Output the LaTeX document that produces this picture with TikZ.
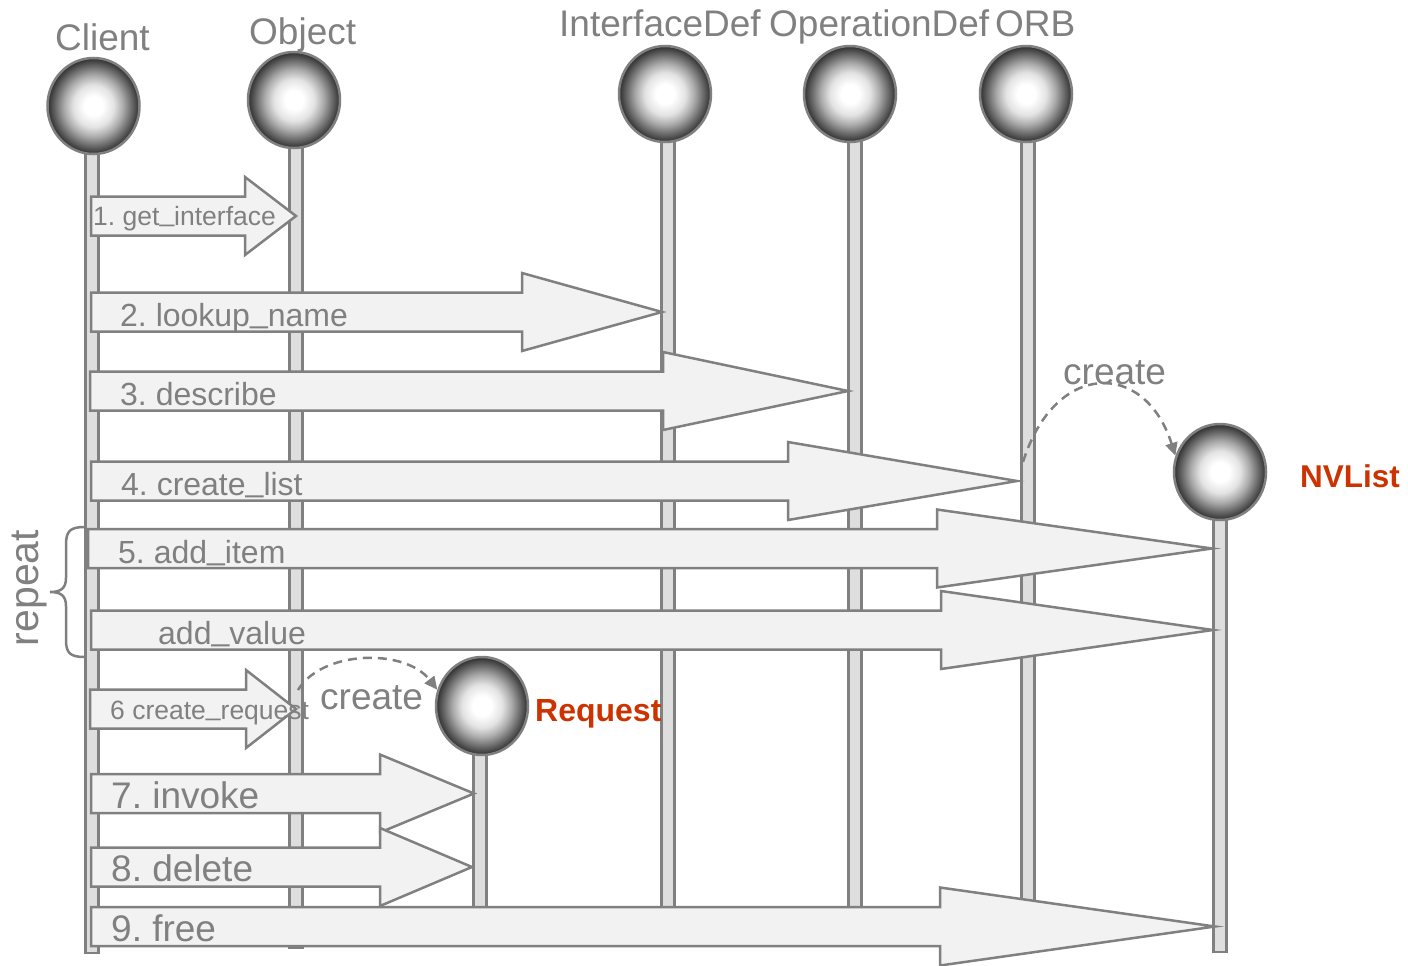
\documentclass[tikz,border=0pt]{standalone}
\usepackage{fontspec}
\setmainfont{Liberation Sans}
\usetikzlibrary{shapes.geometric,arrows.meta}

\definecolor{linegray}{HTML}{808080}
\definecolor{txtgray}{HTML}{808080}
\definecolor{barfill}{HTML}{DEDEDE}
\definecolor{arrowfill}{HTML}{F2F2F2}
\definecolor{objred}{HTML}{CC3300}

% white-centred sphere look for the object heads
\pgfdeclareradialshading{orbshade}{\pgfpoint{0bp}{0bp}}{%
  color(0bp)=(white); color(5bp)=(white); color(11bp)=(black!11);
  color(16bp)=(black!33); color(21bp)=(black!60); color(25bp)=(black!82);
  color(50bp)=(black!82)}

% underscore set slightly higher than the font's own
\newcommand{\us}{\raisebox{0.12em}{\char95}}

\tikzset{
  lifeobj/.style={ellipse, minimum width=92pt, minimum height=96pt, inner sep=0pt,
    draw=linegray, line width=2.5pt, shading=orbshade},
  lifebar/.style={draw=linegray, fill=barfill, line width=2.5pt},
  blockarrow/.style={draw=linegray, fill=arrowfill, line width=2.5pt, line join=miter},
  hdr/.style={text=txtgray, inner sep=0pt, anchor=base west, font=\fontsize{37}{44}\selectfont},
  msgS/.style={text=txtgray, inner sep=0pt, anchor=base west, font=\fontsize{26.5}{30}\selectfont},
  msgM/.style={text=txtgray, inner sep=0pt, anchor=base west, font=\fontsize{32}{38}\selectfont},
  msgL/.style={text=txtgray, inner sep=0pt, anchor=base west, font=\fontsize{37}{44}\selectfont},
  objname/.style={text=objred, inner sep=0pt, anchor=base west, font=\fontsize{32}{38}\selectfont\bfseries},
  createarc/.style={draw=linegray, line width=2.5pt, dash pattern=on 9pt off 6pt,
    -{Triangle[length=13pt,width=12pt,fill=linegray]}},
}

% block arrow: left x, head x, tip x, centre y
\newcommand{\blockarrow}[4]{%
  \draw[blockarrow] (#1,{#4-19.5}) -- (#2,{#4-19.5}) -- (#2,{#4-39}) -- (#3,#4)
    -- (#2,{#4+39}) -- (#2,{#4+19.5}) -- (#1,{#4+19.5}) -- cycle;}
% lifeline bar: centre x, top y, bottom y
\newcommand{\lifebar}[3]{%
  \draw[lifebar] ({#1-6.5},#2) rectangle ({#1+6.5},#3);}

\begin{document}
\frenchspacing
\begin{tikzpicture}[x=1pt,y=-1pt]
\useasboundingbox (0,0) rectangle (1408,966);

% lifelines
\lifebar{92}{106}{953}
\lifebar{296}{100}{948}
\lifebar{668}{94}{915}
\lifebar{855}{94}{915}
\lifebar{1028}{94}{915}
\lifebar{1220}{472}{952}
\lifebar{480}{706}{915}

% object heads
\node[lifeobj] (client) at (93.5,106) {};
\node[lifeobj] (object) at (294,100) {};
\node[lifeobj] (ifacedef) at (665,94) {};
\node[lifeobj] (opdef) at (850,94) {};
\node[lifeobj] (orb) at (1026,94) {};
\node[lifeobj] (nvlist) at (1220,472) {};
\node[lifeobj, minimum height=98pt] (request) at (482,706) {};

% object names
\node[hdr] (tclient) at (55,51) {Client};
\node[hdr] (tobject) at (249,45) {Object};
\node[hdr] (tiface) at (559,37) {InterfaceDef};
\node[hdr] (topdef) at (769,37) {OperationDef};
\node[hdr] (torb) at (995,37) {ORB};
\node[objname, font=\fontsize{31.5}{38}\selectfont\bfseries] (tnvlist) at (1300,487) {NVList};
\node[objname] (trequest) at (535,721) {Request};

% messages
\blockarrow{91}{245}{296}{216}
\node[msgS] (m1) at (93,225) {1. get\us interface};
\blockarrow{91}{522}{662}{312}
\node[msgM] (m2) at (120,326) {2. lookup\us name};
\blockarrow{90}{663}{848}{391}
\node[msgM] (m3) at (120,405) {3. describe};
\blockarrow{91}{788}{1017}{481}
\node[msgM] (m4) at (121,495) {4. create\us list};
\blockarrow{88}{937}{1212}{548.5}
\node[msgM] (m5) at (118,563) {5. add\us item};
\blockarrow{91}{941}{1213}{630}
\node[msgM] (m5b) at (158,644) {add\us value};
\blockarrow{90}{246}{296}{709}
\node[msgS] (m6) at (110,719) {6 create\us request};
\blockarrow{91}{380}{474}{793.5}
\node[msgL] (m7) at (111,808) {7. invoke};
\blockarrow{91}{380}{472}{867}
\node[msgL] (m8) at (111,881) {8. delete};
\blockarrow{91}{940}{1215}{926.5}
\node[msgL] (m9) at (111,941) {9. free};

% object creation
\coordinate (orbcreate) at (1023,462);
\draw[createarc] (orbcreate) .. controls (1055,360) and (1145,360) .. (nvlist.160);
\node[msgL] (tcreate1) at (1063,384) {create};

\coordinate (objcreate) at (298,690);
\draw[createarc] (objcreate) .. controls (322,650) and (405,648) .. (request.160);
\node[msgL] (tcreate2) at (320,709) {create};

% repeated block
\draw[draw=linegray, line width=2.5pt] (85,527) .. controls (70,527) and (66,531) .. (66,545)
  -- (66,578) .. controls (66,589) and (60,592) .. (50,592)
  .. controls (60,592) and (66,595) .. (66,606) -- (66,640)
  .. controls (66,653) and (70,657) .. (85,657);
\node[text=txtgray, inner sep=0pt, anchor=base, rotate=90, font=\fontsize{41}{48}\selectfont] (trepeat) at (38.5,588) {repeat};
\end{tikzpicture}
\end{document}
